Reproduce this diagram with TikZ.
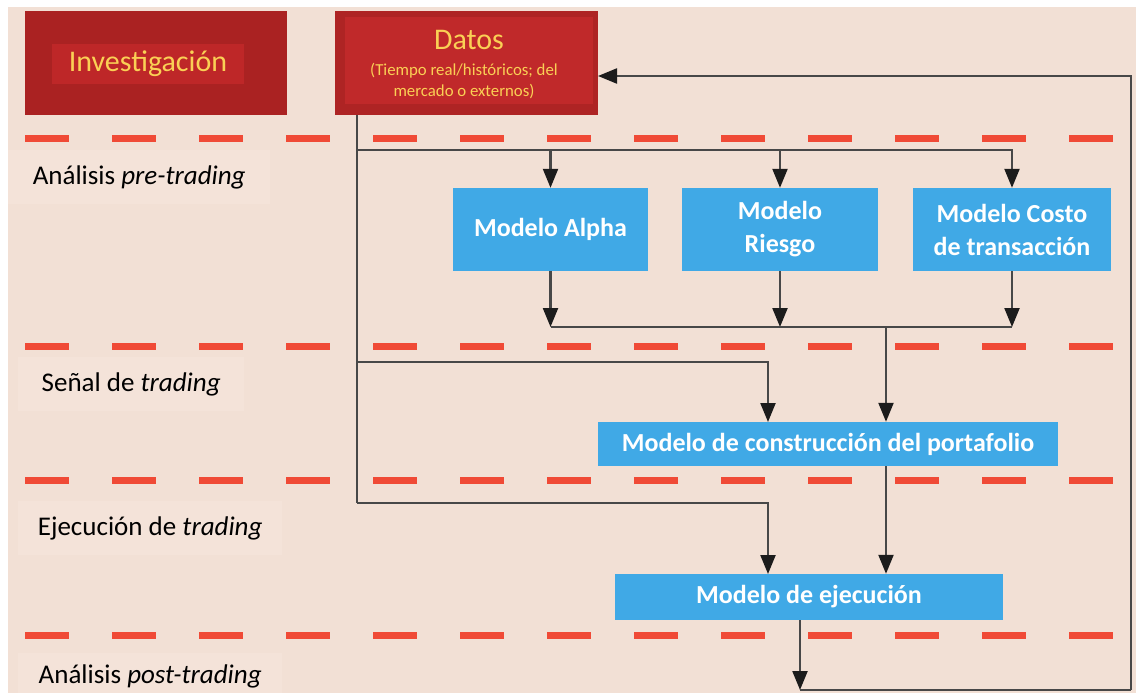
\documentclass[tikz,border=0pt]{standalone}
\usepackage{fontspec}
\setmainfont{Carlito}
\usetikzlibrary{arrows.meta}

\definecolor{bgpeach}{RGB}{242,224,213}
\definecolor{labbg}{RGB}{244,227,217}
\definecolor{redout}{RGB}{170,34,34}
\definecolor{redin}{RGB}{190,39,40}
\definecolor{datout}{RGB}{174,36,36}
\definecolor{datin}{RGB}{192,41,42}
\definecolor{goldtxt}{RGB}{250,208,85}
\definecolor{boxblue}{RGB}{64,169,230}
\definecolor{dashred}{RGB}{240,74,54}
\definecolor{linec}{RGB}{72,72,72}
\definecolor{tipc}{RGB}{28,28,28}

\tikzset{
  phase/.style={draw=dashred, line width=7pt, dash pattern=on 44pt off 43pt},
  lab/.style={anchor=west, fill=labbg, inner xsep=14pt, minimum height=54pt,
    font=\fontsize{27}{32}\selectfont, text=black},
  redbox/.style={rectangle, inner sep=0pt},
  model/.style={rectangle, fill=boxblue, text=white, align=center, inner sep=0pt,
    font=\bfseries\fontsize{26}{33}\selectfont},
  conn/.style={draw=linec, line width=2.2pt},
  arr/.style={conn, -{Triangle[length=19pt,width=15pt,color=tipc]}},
}

\begin{document}
\begin{tikzpicture}[x=1pt,y=-1pt]
\useasboundingbox (0,0) rectangle (1136,693);
\fill[bgpeach] (8,7) rectangle (1136,693);

% phase separators
\foreach \yy in {138,346,480,635}
  \draw[phase] (25,\yy) -- (1136,\yy);

% phase labels
\node[lab, minimum width=262pt] (lpre)  at (8,177) {Análisis \textit{pre-trading}};
\node[lab, minimum width=226pt] (lsig)  at (18,384) {Señal de \textit{trading}};
\node[lab, minimum width=264pt] (lexe)  at (18,528) {Ejecución de \textit{trading}};
\node[lab, minimum width=264pt, minimum height=46pt] (lpost) at (18,676) {Análisis \textit{post-trading}};

% top red boxes
\node[redbox, fill=redout, minimum width=262pt, minimum height=104pt] (inv) at (155.5,63) {};
\node[redbox, fill=redin, minimum width=192pt, minimum height=40pt, text=goldtxt,
      font=\fontsize{30}{36}\selectfont] (invtxt) at (148,64) {Investigación};

\node[redbox, fill=datout, minimum width=263pt, minimum height=104pt] (datos) at (466.5,63) {};
\node[redbox, fill=datin, minimum width=248pt, minimum height=87pt] (datin) at (469,60.5) {};
\node[text=goldtxt, inner sep=0pt, font=\fontsize{30}{36}\selectfont] (dtitle) at (469,40) {Datos};
\node[text=goldtxt, inner sep=0pt, align=center, font=\fontsize{16.8}{21}\selectfont] (dsub) at (464,81)
  {(Tiempo real/históricos; del\\mercado o externos)};

% model boxes
\node[model, minimum width=195pt, minimum height=83pt] (alpha) at (550.5,229.5) {Modelo Alpha};
\node[model, minimum width=196pt, minimum height=83pt] (riesgo) at (780,229.5) {Modelo\\Riesgo};
\node[model, minimum width=198pt, minimum height=83pt] (costo) at (1012,229.5) {Modelo Costo\\de transacción};
\node[model, minimum width=460pt, minimum height=44pt] (port) at (828,444) {Modelo de construcción del portafolio};
\node[model, minimum width=388pt, minimum height=46pt] (ejec) at (809,597) {Modelo de ejecución};

% junction points
\coordinate (dout) at (357,115);
\coordinate (j1) at (357,150);
\coordinate (j2) at (357,362);
\coordinate (j3) at (357,503);
\coordinate (mrg) at (886,327);
\coordinate (pin) at (768,422);
\coordinate (ein) at (768,574);
\coordinate (eout) at (800,620);
\coordinate (fb) at (800,690);
\coordinate (fbr) at (1131,690);
\coordinate (dback) at (598,76);

% data distribution
\draw[conn] (dout) -- (j3);
\draw[arr] (j1) -| (alpha.north);
\draw[arr] (j1) -| (riesgo.north);
\draw[arr] (j1) -| (costo.north);

% model outputs merged
\draw[arr] (alpha.south) -- (alpha.south |- mrg);
\draw[arr] (riesgo.south) -- (riesgo.south |- mrg);
\draw[arr] (costo.south) -- (costo.south |- mrg);
\draw[conn] (alpha.south |- mrg) -- (costo.south |- mrg);
\draw[arr] (mrg) -- (mrg |- port.north);

% into portfolio and execution
\draw[arr] (j2) -| (pin);
\draw[arr] (mrg |- port.south) -- (mrg |- ejec.north);
\draw[arr] (j3) -| (ein);

% feedback loop
\draw[arr] (eout) -- (fb);
\draw[conn] (fb) -- (fbr);
\draw[arr] (fbr) |- (dback);
\end{tikzpicture}
\end{document}
